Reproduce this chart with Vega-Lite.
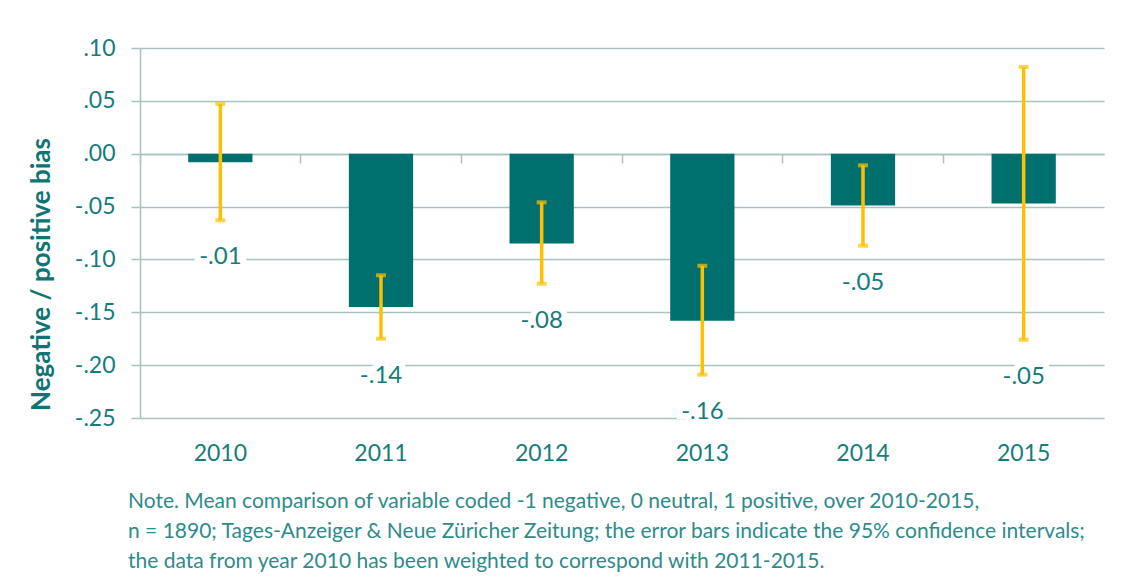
{
  "$schema": "https://vega.github.io/schema/vega-lite/v6.json",
  "width": 964,
  "height": 370,
  "autosize": {"type": "none"},
  "padding": {"left": 140, "top": 48, "right": 23, "bottom": 164},
  "background": "white",
  "config": {"view": {"stroke": null}, "font": "Lato"},
  "data": {
    "values": [
      {"year": "2010", "mean": -0.008, "lower": -0.063, "upper": 0.047, "label": "-.01"},
      {"year": "2011", "mean": -0.145, "lower": -0.175, "upper": -0.115, "label": "-.14"},
      {"year": "2012", "mean": -0.085, "lower": -0.123, "upper": -0.046, "label": "-.08"},
      {"year": "2013", "mean": -0.158, "lower": -0.209, "upper": -0.106, "label": "-.16"},
      {"year": "2014", "mean": -0.049, "lower": -0.087, "upper": -0.011, "label": "-.05"},
      {"year": "2015", "mean": -0.047, "lower": -0.176, "upper": 0.082, "label": "-.05"}
    ]
  },
  "title": {
    "text": [
      "Note. Mean comparison of variable coded -1 negative, 0 neutral, 1 positive, over 2010-2015,",
      "n = 1890; Tages-Anzeiger & Neue Züricher Zeitung; the error bars indicate the 95% confidence intervals;",
      "the data from year 2010 has been weighted to correspond with 2011-2015."
    ],
    "orient": "bottom",
    "anchor": "start",
    "frame": "group",
    "dx": -12,
    "offset": 26,
    "font": "Lato",
    "fontSize": 21,
    "fontWeight": "normal",
    "color": "#2E8B8B",
    "lineHeight": 30
  },
  "layer": [
    {
      "mark": {"type": "bar", "width": {"band": 0.4}, "color": "#00706F"},
      "encoding": {
        "x": {
          "field": "year",
          "type": "nominal",
          "scale": {"paddingInner": 0, "paddingOuter": 0},
          "axis": {
            "orient": "bottom",
            "title": null,
            "domain": false,
            "ticks": false,
            "grid": false,
            "labelAngle": 0,
            "labelPadding": 24,
            "labelFontSize": 23,
            "labelColor": "#157C7C"
          }
        },
        "y": {
          "field": "mean",
          "type": "quantitative",
          "title": "Negative / positive bias",
          "scale": {"domain": [-0.25, 0.1], "nice": false, "zero": false},
          "axis": {
            "values": [0.1, 0.05, 0, -0.05, -0.1, -0.15, -0.2, -0.25],
            "labelExpr": "replace(replace(format(datum.value, '.2f'), '0.', '.'), '−', '-')",
            "grid": true,
            "gridColor": "#A9C1C1",
            "gridWidth": 1.5,
            "domainColor": "#A9C1C1",
            "domainWidth": 1.5,
            "tickColor": "#A9C1C1",
            "tickWidth": 1.5,
            "tickSize": 9,
            "labelFontSize": 23,
            "labelColor": "#157C7C",
            "labelPadding": 16,
            "titleFontSize": 26,
            "titleFontWeight": "bold",
            "titleColor": "#0F7474",
            "titleBaseline": "middle",
            "titleX": -99,
            "titleY": 226
          }
        }
      }
    },
    {
      "mark": {"type": "rule", "color": "#FFC000", "strokeWidth": 3.5},
      "encoding": {
        "x": {
          "field": "year",
          "type": "nominal",
          "axis": {
            "orient": "bottom",
            "offset": -264,
            "title": null,
            "labels": false,
            "grid": false,
            "domain": true,
            "domainColor": "#A9C1C1",
            "domainWidth": 1.5,
            "ticks": true,
            "tickSize": 9,
            "tickColor": "#A9C1C1",
            "tickWidth": 1.5,
            "bandPosition": 0
          }
        },
        "y": {"field": "lower", "type": "quantitative", "title": "Negative / positive bias"},
        "y2": {"field": "upper"}
      }
    },
    {
      "mark": {"type": "tick", "color": "#FFC000", "size": 10, "thickness": 4},
      "encoding": {
        "x": {"field": "year", "type": "nominal", "axis": null},
        "y": {"field": "lower", "type": "quantitative", "title": "Negative / positive bias"}
      }
    },
    {
      "mark": {"type": "tick", "color": "#FFC000", "size": 10, "thickness": 4},
      "encoding": {
        "x": {"field": "year", "type": "nominal", "axis": null},
        "y": {"field": "upper", "type": "quantitative", "title": "Negative / positive bias"}
      }
    },
    {
      "mark": {"type": "text", "dy": 37, "fontSize": 24, "font": "Lato", "color": "white", "stroke": "white", "strokeWidth": 12},
      "encoding": {
        "x": {"field": "year", "type": "nominal", "axis": null},
        "y": {"field": "lower", "type": "quantitative", "title": "Negative / positive bias"},
        "text": {"field": "label"}
      }
    },
    {
      "mark": {"type": "text", "dy": 37, "fontSize": 24, "font": "Lato", "color": "#157C7C"},
      "encoding": {
        "x": {"field": "year", "type": "nominal", "axis": null},
        "y": {"field": "lower", "type": "quantitative", "title": "Negative / positive bias"},
        "text": {"field": "label"}
      }
    }
  ],
  "resolve": {"axis": {"x": "independent"}}
}
